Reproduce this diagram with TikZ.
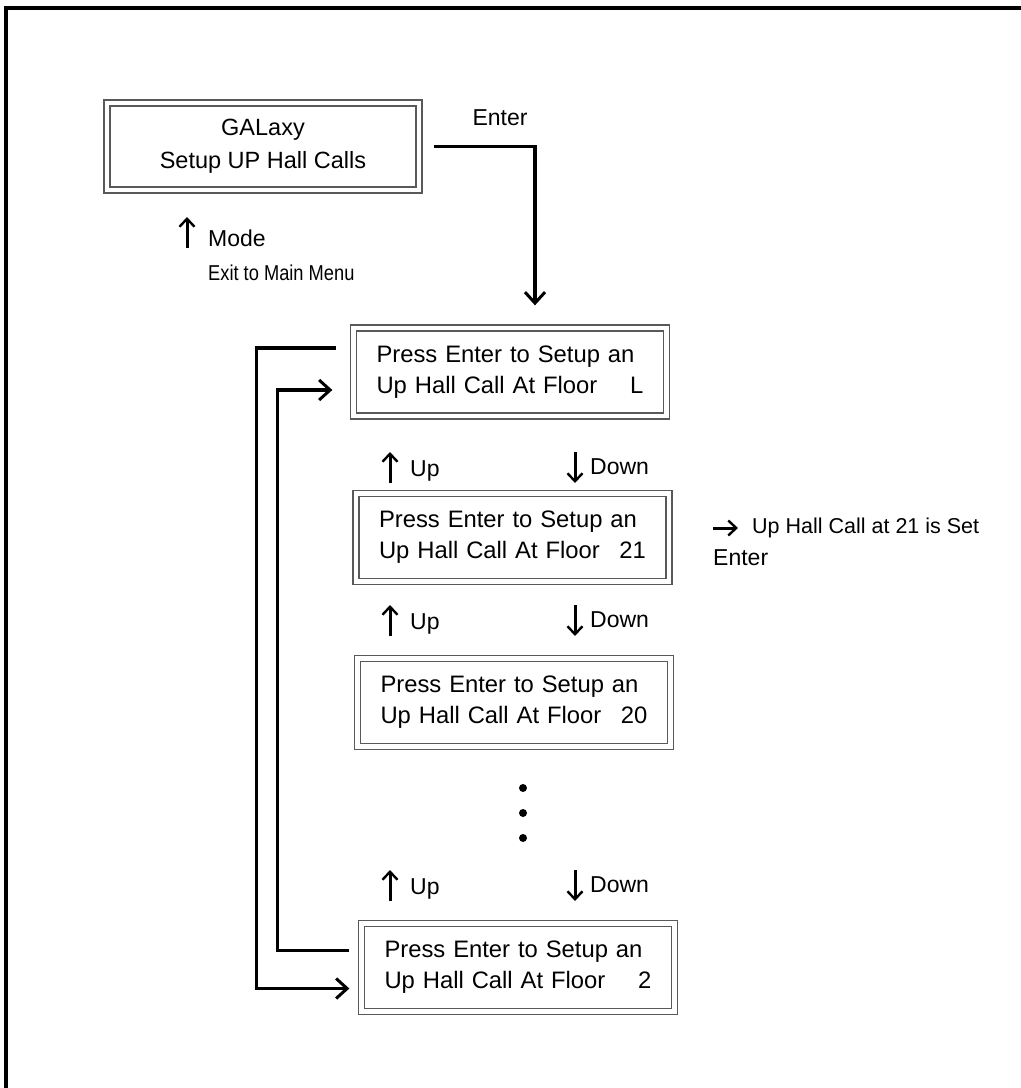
\documentclass[tikz,border=0pt]{standalone}
\usepackage{fontspec}
\setmainfont{Liberation Sans}
\newfontfamily\narrowfont[FakeStretch=0.85]{Liberation Sans}
\usetikzlibrary{arrows.meta,calc}
\begin{document}
\begin{tikzpicture}[x=1pt,y=-1pt,
  lcd/.style={draw=black!65, double=white, double distance=4.5pt, line width=1.3pt,
    minimum width=313pt, minimum height=88pt, inner sep=0pt},
  lcdtext/.style={lcd, text width=267pt, align=left, font=\fontsize{23.8}{31}\selectfont},
  conn/.style={line width=3.5pt, -{Straight Barb[length=11pt,width=20pt,line width=3pt]}},
  symarr/.style={line width=3pt, -{Straight Barb[length=8pt,width=15pt,line width=2.4pt]}},
  lbl/.style={font=\fontsize{23}{26}\selectfont, inner sep=0pt},
  small/.style={font=\narrowfont\fontsize{21.5}{24}\selectfont, inner sep=0pt},
  msg/.style={font=\fontsize{21.5}{24}\selectfont, inner sep=0pt}]
\useasboundingbox (0,0) rectangle (1021,1088);
% frame (top and left edges)
\draw[line width=4pt] (4,8) -- (1021,8);
\draw[line width=4pt] (6,6) -- (6,1088);

% boxes
\node[lcd, align=center, font=\fontsize{23.5}{33}\selectfont, minimum width=312pt, minimum height=87pt] (b1) at (263,146.5) {GALaxy\\Setup UP Hall Calls};
\node[lcdtext] (b2) at (510,372) {Press Enter to Setup an\\Up Hall Call At Floor\hfill L};
\node[lcdtext] (b3) at (512.5,537.5) {Press Enter to Setup an\\Up Hall Call At Floor\hfill 21};
\node[lcdtext] (b4) at (514,702.5) {Press Enter to Setup an\\Up Hall Call At Floor\hfill 20};
\node[lcdtext] (b5) at (518,967.5) {Press Enter to Setup an\\Up Hall Call At Floor\hfill 2};

% Enter connector from b1 to b2
\node[lbl] (enter1) at (500,118) {Enter};
\draw[conn] ([xshift=14pt]b1.east) -| ([xshift=25pt,yshift=22pt]b2.north);

% Mode
\node[lbl, anchor=west] (mode) at (208,238) {Mode};
\draw[symarr] ([xshift=-21pt,yshift=-10pt]mode.west) -- ++(0,-31);
\node[small, anchor=west] (exit) at (208,273) {Exit to Main Menu};

% Up / Down labels
\foreach \r/\yy in {1/467, 2/620, 3/885}{
  \node[lbl, anchor=west] (up\r) at (410,\yy+4) {Up};
  \draw[symarr] ([xshift=-20pt,yshift=-12pt]up\r.west) -- ++(0,-31);
  \node[lbl, anchor=west] (down\r) at (590,\yy) {Down};
  \draw[symarr] ([xshift=-15pt,yshift=15pt]down\r.west) -- ++(0,31);
}

% set message
\node[msg, anchor=west] (setmsg) at (752,528) {Up Hall Call at 21 is Set};
\draw[symarr] ([xshift=-39pt]setmsg.west) -- ++(25,0);
\node[lbl, anchor=west] (enter2) at (713,558) {Enter};

% dots
\foreach \yy in {788,813,838}{\fill (523,\yy) circle (4pt);}

% loop connectors
\draw[conn] ($(b2.west)+(-16.5,-24)$) -- ++(-80,0) |- ($(b5.west)+(-11.5,21)$);
\draw[conn] ($(b5.west)+(-11.5,-17)$) -- ++(-72,0) |- ($(b2.west)+(-20.5,18)$);
\end{tikzpicture}
\end{document}
